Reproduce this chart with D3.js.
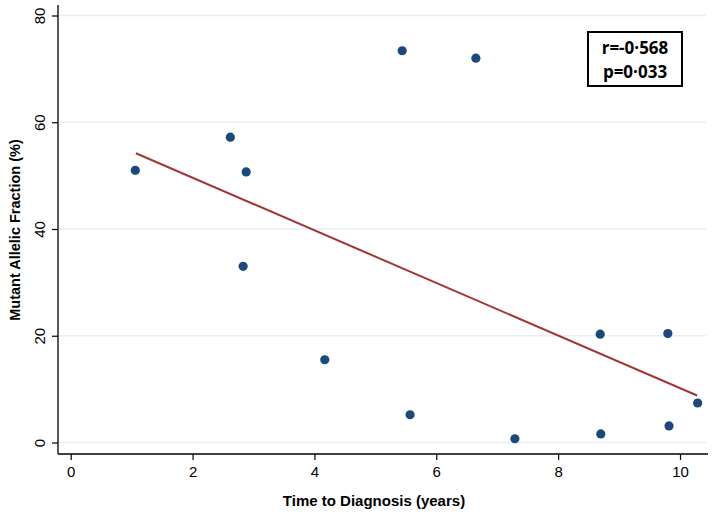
<!DOCTYPE html>
<html><head><meta charset="utf-8">
<script src="https://cdn.jsdelivr.net/npm/d3@7"></script>
<style>body{margin:0;background:#fff}svg{display:block}</style>
</head><body>
<script>
const years = [1.06, 2.62, 2.88, 2.83, 4.17, 5.44, 5.57, 6.65, 7.29, 8.69, 8.70, 9.80, 9.82, 10.29];
const fraction = [51.0, 57.2, 50.7, 33.0, 15.5, 73.4, 5.2, 72.0, 0.7, 20.3, 1.6, 20.4, 3.1, 7.4];
const fitX = [1.07, 10.28];
const fitY = [54.2, 8.8];
const xTicks = [0, 2, 4, 6, 8, 10];
const yTicks = [0, 20, 40, 60, 80];
const statLines = ["r=-0\u00b7568", "p=0\u00b7033"];

const W = 714, H = 518;
const svg = d3.select("body").append("svg").attr("width", W).attr("height", H);
const x = d3.scaleLinear().domain([0, 10]).range([70.7, 680]);
const y = d3.scaleLinear().domain([0, 80]).range([442.5, 15.5]);
const axisLeftX = 58, axisBottomY = 454, plotRight = 708;

// gridlines
svg.append("g").selectAll("line").data(yTicks).join("line")
  .attr("x1", axisLeftX).attr("x2", 706)
  .attr("y1", d => y(d)).attr("y2", d => y(d))
  .attr("stroke", "#e6eff4").attr("stroke-width", 1.5);

// y axis
const ya = svg.append("g").attr("transform", `translate(${axisLeftX},0)`)
  .call(d3.axisLeft(y).tickValues(yTicks).tickSize(6).tickPadding(9));
ya.select(".domain").remove();
ya.selectAll(".tick line").attr("stroke", "#000").attr("stroke-width", 1.2);
ya.selectAll(".tick text").attr("font-family", "Liberation Sans, Arial, sans-serif").attr("font-size", 15)
  .attr("fill", "#000").attr("text-anchor", "middle")
  .attr("transform", "rotate(-90)").attr("x", 0).attr("dy", 0)
  .attr("y", -13);
svg.append("line").attr("x1", axisLeftX).attr("x2", axisLeftX).attr("y1", 5).attr("y2", axisBottomY)
  .attr("stroke", "#000").attr("stroke-width", 1.3);

// x axis
const xa = svg.append("g").attr("transform", `translate(0,${axisBottomY})`)
  .call(d3.axisBottom(x).tickValues(xTicks).tickSize(6).tickPadding(6));
xa.select(".domain").remove();
xa.selectAll(".tick line").attr("stroke", "#000").attr("stroke-width", 1.2);
xa.selectAll(".tick text").attr("font-family", "Liberation Sans, Arial, sans-serif").attr("font-size", 15).attr("fill", "#000");
svg.append("line").attr("x1", axisLeftX).attr("x2", plotRight).attr("y1", axisBottomY).attr("y2", axisBottomY)
  .attr("stroke", "#000").attr("stroke-width", 1.3);

// fit line
svg.append("path").datum(fitX.map((v, i) => [v, fitY[i]]))
  .attr("d", d3.line().x(d => x(d[0])).y(d => y(d[1])))
  .attr("stroke", "#a33535").attr("stroke-width", 2).attr("fill", "none");

// points
svg.append("g").selectAll("circle").data(years.map((v, i) => [v, fraction[i]])).join("circle")
  .attr("cx", d => x(d[0])).attr("cy", d => y(d[1])).attr("r", 4.6)
  .attr("fill", "#1b4a7a");

// axis titles
svg.append("text").attr("x", 374).attr("y", 506).attr("text-anchor", "middle")
  .attr("font-family", "Liberation Sans, Arial, sans-serif").attr("font-weight", "bold").attr("font-size", 15)
  .text("Time to Diagnosis (years)");
svg.append("text").attr("transform", "translate(20,230) rotate(-90)").attr("text-anchor", "middle")
  .attr("font-family", "Liberation Sans, Arial, sans-serif").attr("font-weight", "bold").attr("font-size", 14.5)
  .text("Mutant Allelic Fraction (%)");

// stat box
svg.append("rect").attr("x", 588).attr("y", 32).attr("width", 94).attr("height", 54)
  .attr("fill", "#fff").attr("stroke", "#000").attr("stroke-width", 2);
svg.append("g").selectAll("text").data(statLines).join("text")
  .attr("x", 635).attr("y", (d, i) => 54 + i * 24).attr("text-anchor", "middle")
  .attr("font-family", "Open Sans, Liberation Sans, sans-serif").attr("font-weight", "bold").attr("font-size", 17)
  .text(d => d);
</script>
</body></html>
